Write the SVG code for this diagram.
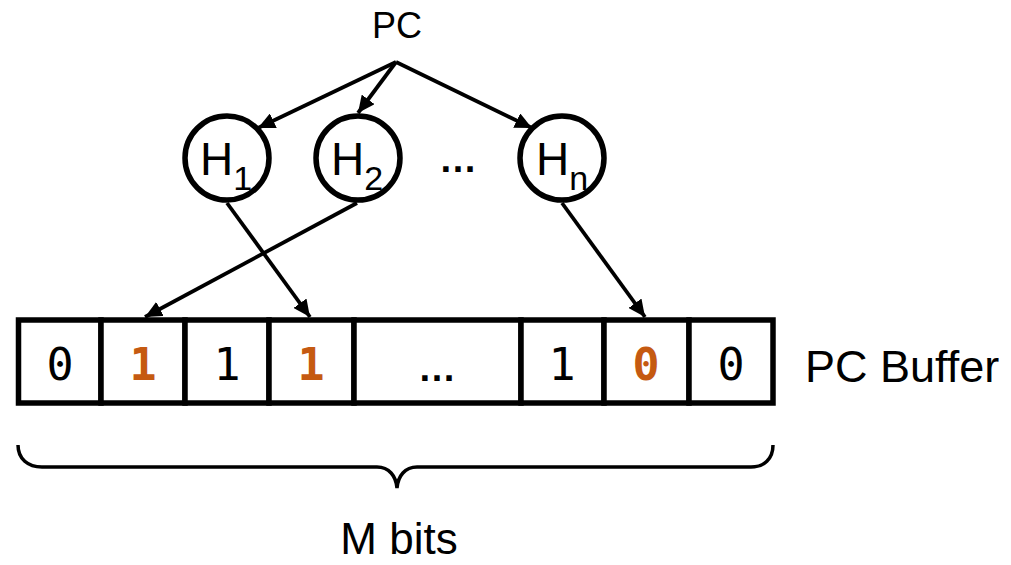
<svg xmlns="http://www.w3.org/2000/svg" width="1011" height="565" viewBox="0 0 1011 565">
  <defs>
    <marker id="arrow" markerUnits="userSpaceOnUse" markerWidth="18" markerHeight="16" refX="17" refY="8" orient="auto">
      <path d="M0,0 L17,8 L0,16 z" fill="#000"/>
    </marker>
    <style>
      .lbl { font-family: "Liberation Sans", Arial, sans-serif; fill: #000; }
      .bit { font-family: "DejaVu Sans Mono", "Liberation Mono", monospace; font-size: 45px; text-anchor: middle; fill: #000; }
      .hot { fill: #C55A11; font-weight: bold; }
      .node circle { fill: #fff; stroke: #000; stroke-width: 5.5; }
      .cell { fill: #fff; stroke: #000; stroke-width: 5.5; }
      .conn line { stroke: #000; stroke-width: 3.8; marker-end: url(#arrow); }
    </style>
  </defs>
  <rect width="1011" height="565" fill="#fff"/>

  <g id="pc">
    <text class="lbl" x="397" y="38" font-size="36" text-anchor="middle">PC</text>
  </g>

  <g id="h1" class="node">
    <circle cx="227" cy="158" r="42"/>
    <text class="lbl" x="226" y="175" font-size="46" text-anchor="middle">H<tspan font-size="34" dy="15">1</tspan></text>
  </g>
  <g id="h2" class="node">
    <circle cx="358" cy="158" r="42"/>
    <text class="lbl" x="357" y="175" font-size="46" text-anchor="middle">H<tspan font-size="34" dy="15">2</tspan></text>
  </g>
  <g id="hdots">
    <text class="lbl" x="458" y="172" font-size="38" font-weight="bold" text-anchor="middle">…</text>
  </g>
  <g id="hn" class="node">
    <circle cx="562" cy="158" r="42"/>
    <text class="lbl" x="562" y="175" font-size="46" text-anchor="middle">H<tspan font-size="34" dy="15">n</tspan></text>
  </g>

  <g id="buffer">
    <rect class="cell" x="18.5" y="320" width="82.5" height="83"/>
    <rect class="cell" x="101" y="320" width="84" height="83"/>
    <rect class="cell" x="185" y="320" width="84" height="83"/>
    <rect class="cell" x="269" y="320" width="85" height="83"/>
    <rect class="cell" x="354" y="320" width="167" height="83"/>
    <rect class="cell" x="521" y="320" width="83" height="83"/>
    <rect class="cell" x="604" y="320" width="85" height="83"/>
    <rect class="cell" x="689" y="320" width="84" height="83"/>
    <text class="bit" x="60" y="380">0</text>
    <text class="bit hot" x="143" y="380">1</text>
    <text class="bit" x="227" y="380">1</text>
    <text class="bit hot" x="311" y="380">1</text>
    <text class="lbl" x="437" y="381" font-size="38" font-weight="bold" text-anchor="middle">…</text>
    <text class="bit" x="562" y="380">1</text>
    <text class="bit hot" x="646" y="380">0</text>
    <text class="bit" x="731" y="380">0</text>
  </g>

  <g id="buffer-label">
    <text class="lbl" x="805" y="382" font-size="45">PC Buffer</text>
  </g>

  <g id="brace">
    <path d="M18,445 C18,459 28,467 42,467 L377,467 C389,467 396,476 397,488 C398,476 405,467 417,467 L751,467 C764,467 773,459 773,445" fill="none" stroke="#000" stroke-width="3.5"/>
    <text class="lbl" x="399" y="554" font-size="44" text-anchor="middle">M bits</text>
  </g>

  <g id="connectors" class="conn">
    <line x1="396" y1="62" x2="258" y2="128"/>
    <line x1="396" y1="62" x2="358" y2="113"/>
    <line x1="396" y1="62" x2="532" y2="128"/>
    <line x1="227" y1="203" x2="310" y2="317"/>
    <line x1="357" y1="203" x2="145" y2="317"/>
    <line x1="562" y1="203" x2="645" y2="317"/>
  </g>
</svg>
